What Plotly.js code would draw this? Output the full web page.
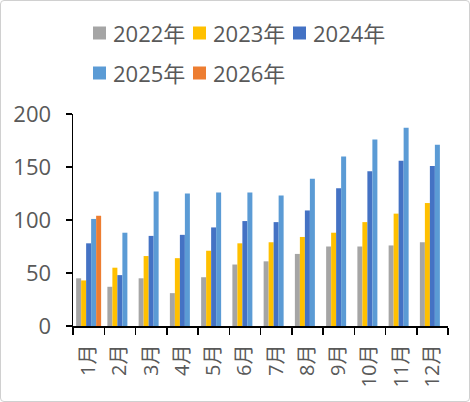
<!DOCTYPE html>
<html><head><meta charset="utf-8">
<script src="https://cdn.plot.ly/plotly-3.0.1.min.js"></script>
<style>
html,body{margin:0;padding:0;background:#fff;}
#wrap{position:relative;width:470px;height:402px;}
#chart{width:470px;height:402px;}
#frame{position:absolute;left:0;top:0;width:468px;height:400px;border:1px solid #d0d0d0;border-radius:4px;pointer-events:none;}
</style></head>
<body><div id="wrap"><div id="chart"></div><div id="frame"></div></div>
<script>
const months = ['1月','2月','3月','4月','5月','6月','7月','8月','9月','10月','11月','12月'];
const y2022 = [45, 37, 45, 31, 46, 58, 61, 68, 75, 75, 76, 79];
const y2023 = [43, 55, 66, 64, 71, 78, 79, 84, 88, 98, 106, 116];
const y2024 = [78, 48, 85, 86, 93, 99, 98, 109, 130, 146, 156, 151];
const y2025 = [101, 88, 127, 125, 126, 126, 123, 139, 160, 176, 187, 171];
const y2026 = [104];
const seriesNames = ['2022年','2023年','2024年','2025年','2026年'];
const colors = ['#A5A5A5','#FFC000','#4472C4','#5B9BD5','#ED7D31'];
const vals = [y2022, y2023, y2024, y2025, y2026];

const font = "'Segoe UI','Open Sans','Noto Sans CJK SC',sans-serif";
const M = {l:73, r:22, t:114, b:76};
const W = 470, H = 402;
const pw = W - M.l - M.r, ph = H - M.t - M.b;
const px2x = p => (p - M.l) / pw;
const py2y = p => (H - M.b - p) / ph;

const traces = vals.map((v,i)=>({
  type:'bar', name:seriesNames[i], x:months.slice(0,v.length), y:v,
  marker:{color:colors[i]}, hoverinfo:'skip', showlegend:false
}));

// manual legend (3 per row, 2 rows)
const shapes = [], annotations = [];
seriesNames.forEach((n,i)=>{
  const col = i % 3, row = Math.floor(i / 3);
  const sx = 93 + col * 100, cy = 33 + row * 40;
  shapes.push({type:'rect', xref:'paper', yref:'paper',
    x0:px2x(sx), x1:px2x(sx+13), y0:py2y(cy+6.5), y1:py2y(cy-6.5),
    fillcolor:colors[i], line:{width:0}});
  annotations.push({xref:'paper', yref:'paper', x:px2x(sx+18), y:py2y(cy),
    xanchor:'left', yanchor:'middle', showarrow:false, text:n,
    font:{size:22, color:'#595959', family:font}});
});

const layout = {
  width:W, height:H, margin:M,
  paper_bgcolor:'#fff', plot_bgcolor:'#fff',
  barmode:'group', bargap:0.2, bargroupgap:0,
  font:{family:font, color:'#595959', size:18},
  showlegend:false, shapes, annotations,
  xaxis:{type:'category', categoryarray:months, categoryorder:'array',
    showline:true, linecolor:'#000', linewidth:1.5,
    ticks:'outside', tickson:'boundaries', ticklen:7, tickcolor:'#000', tickwidth:1.5,
    ticklabelstandoff:9,
    tickangle:-90, tickfont:{size:20, color:'#595959'}, showgrid:false, zeroline:false},
  yaxis:{range:[0,200], tickvals:[0,50,100,150,200], showline:true, linecolor:'#000', linewidth:1.5,
    ticks:'outside', ticklen:6, tickcolor:'#000', tickwidth:1.5,
    ticklabelstandoff:10,
    tickfont:{size:22, color:'#595959'}, showgrid:false, zeroline:false}
};
Plotly.newPlot('chart', traces, layout, {displayModeBar:false, staticPlot:true});
</script></body></html>
